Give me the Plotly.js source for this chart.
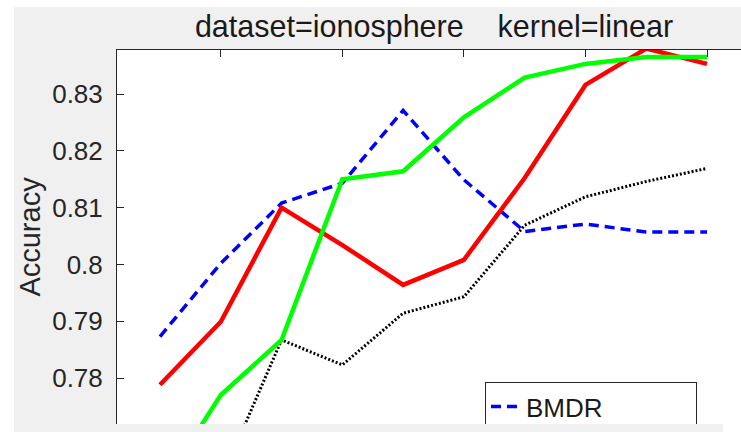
<!DOCTYPE html>
<html>
<head>
<meta charset="utf-8">
<script src="https://cdn.plot.ly/plotly-3.0.1.min.js"></script>
<style>
  html, body { margin: 0; padding: 0; background: #ffffff; overflow: hidden; width: 741px; height: 432px; }
  #plot { position: absolute; left: 14px; top: 7px; width: 727px; height: 425px; }
  #stripGray { position: absolute; left: 14px; top: 424px; width: 709px; height: 8px; background: #f0f0f0; }
  #stripWhite { position: absolute; left: 723px; top: 424px; width: 18px; height: 8px; background: #ffffff; }
</style>
</head>
<body>
<div id="plot"></div>
<div id="stripGray"></div>
<div id="stripWhite"></div>
<script>
// x positions (query rounds), ticks at every second round
const rounds = [1, 2, 3, 4, 5, 6, 7, 8, 9, 10];
const xTickVals = [2, 4, 6, 8, 10];

// accuracy values
const bmdr   = [0.7873, 0.8002, 0.8108, 0.8143, 0.8271, 0.8149, 0.8058, 0.8071, 0.8057, 0.8057];
const red    = [0.7788, 0.7899, 0.8100, 0.8034, 0.7964, 0.8008, 0.8152, 0.8316, 0.8380, 0.8353];
const green  = [0.7603, 0.7770, 0.7867, 0.8150, 0.8164, 0.8259, 0.8329, 0.8353, 0.8365, 0.8365];
const black  = [0.7550, 0.7620, 0.7867, 0.7823, 0.7914, 0.7943, 0.8069, 0.8119, 0.8146, 0.8169];

const yTickVals = [0.78, 0.79, 0.80, 0.81, 0.82, 0.83];
const yTickText = ['0.78', '0.79', '0.8', '0.81', '0.82', '0.83'];

const FONT = 'Liberation Sans, Arial, Helvetica, sans-serif';
const AX = '#262626';

const traces = [
  { x: rounds, y: bmdr, name: 'BMDR<br>&nbsp;', mode: 'lines',
    line: { color: '#0000ff', width: 3.5, dash: '10px,6px' }, showlegend: true },
  { x: rounds, y: black, name: 'series 4', mode: 'lines',
    line: { color: '#000000', width: 3, dash: '2px,2px' }, showlegend: false },
  { x: rounds, y: red, name: 'series 2', mode: 'lines',
    line: { color: '#ff0000', width: 4.5 }, showlegend: false },
  { x: rounds, y: green, name: 'series 3', mode: 'lines',
    line: { color: '#00ff00', width: 4.5 }, showlegend: false }
];

const layout = {
  width: 727, height: 425,
  paper_bgcolor: '#f0f0f0',
  plot_bgcolor: '#ffffff',
  margin: { l: 103, r: 0, t: 43, b: 8, pad: 0, autoexpand: false },
  font: { family: FONT, color: AX },
  title: {
    text: 'dataset=ionosphere&nbsp;&nbsp;&nbsp;&nbsp;kernel=linear',
    font: { family: FONT, size: 30.5, color: '#1a1a1a' },
    xref: 'paper', x: 0.508, xanchor: 'center',
    yref: 'container', y: 0.955, yanchor: 'middle'
  },
  xaxis: {
    side: 'top',
    range: [0.2925, 10.559],
    tickvals: xTickVals,
    showticklabels: false,
    ticks: 'inside', ticklen: 7, tickcolor: AX, tickwidth: 1,
    showline: true, linecolor: AX, linewidth: 1,
    showgrid: false, zeroline: false
  },
  yaxis: {
    range: [0.7719, 0.83775],
    tickvals: yTickVals,
    ticktext: yTickText,
    ticks: 'inside', ticklen: 7, tickcolor: AX, tickwidth: 1,
    ticklabelstandoff: 8,
    tickfont: { family: FONT, size: 26, color: '#262626' },
    showline: true, linecolor: AX, linewidth: 1,
    showgrid: false, zeroline: false,
    title: { text: 'Accuracy', font: { family: FONT, size: 29, color: '#262626' }, standoff: 8 }
  },
  showlegend: true,
  legend: {
    x: 0.5897, y: 0.1123, xanchor: 'left', yanchor: 'top',
    xref: 'paper', yref: 'paper',
    orientation: 'h',
    valign: 'top',
    bgcolor: '#ffffff', bordercolor: AX, borderwidth: 1,
    font: { family: FONT, size: 26, color: '#1a1a1a' },
    entrywidth: 165
  }
};

Plotly.newPlot('plot', traces, layout, { displayModeBar: false, staticPlot: true });
</script>
</body>
</html>
